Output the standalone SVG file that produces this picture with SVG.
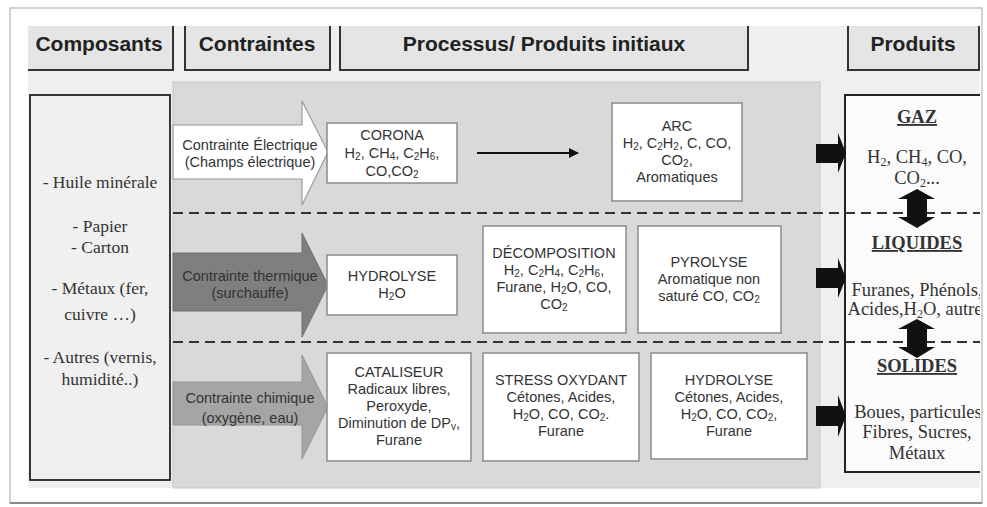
<svg xmlns="http://www.w3.org/2000/svg" width="987" height="507" viewBox="0 0 987 507">
<defs>
<style>
.hdr{fill:#e5e5e5}
.hdrb{fill:none;stroke:#333;stroke-width:2}
.ht{font-family:"Liberation Sans",Arial,sans-serif;font-weight:bold;font-size:21px;fill:#222;text-anchor:middle}
.box{fill:#fff;stroke:#8a8a8a;stroke-width:1.5}
.bt{font-family:"Liberation Sans",Arial,sans-serif;font-size:14.5px;fill:#333;text-anchor:middle}
.st{font-family:"Liberation Serif","Times New Roman",serif;font-size:17.5px;fill:#333;text-anchor:middle}
.pt{font-family:"Liberation Serif","Times New Roman",serif;font-size:18.5px;fill:#333;text-anchor:middle}
.ptb{font-family:"Liberation Serif","Times New Roman",serif;font-size:18.5px;font-weight:bold;fill:#333;text-anchor:middle;text-decoration:underline}
.dash{stroke:#333;stroke-width:2;stroke-dasharray:10 6;fill:none}
.blk{fill:#111}
</style>
<marker id="ah" markerWidth="10" markerHeight="10" refX="9" refY="5" orient="auto" markerUnits="userSpaceOnUse">
<path d="M0,0 L10,5 L0,10 z" fill="#111"/>
</marker>
<clipPath id="clipR"><rect x="0" y="0" width="980" height="507"/></clipPath>
</defs>
<rect x="0" y="0" width="987" height="507" fill="#fff"/>
<rect x="10" y="8" width="972" height="495" fill="#fff" stroke="#c4c4c4" stroke-width="1.5"/>
<line x1="10" y1="503" x2="982" y2="503" stroke="#8a8a8a" stroke-width="2"/>
<rect x="28" y="26" width="952" height="462" fill="#efefef"/>

<g id="headers">
<g id="h-composants"><rect class="hdr" x="28" y="26" width="145" height="44"/><path class="hdrb" d="M173,26 V70 H28"/><text class="ht" x="99" y="51">Composants</text></g>
<g id="h-contraintes"><rect class="hdr" x="185" y="26" width="145" height="44"/><path class="hdrb" d="M185,26 V70 H330 V26"/><text class="ht" x="257" y="51">Contraintes</text></g>
<g id="h-processus"><rect class="hdr" x="340" y="26" width="408" height="44"/><path class="hdrb" d="M340,26 V70 H748 V26"/><text class="ht" x="544" y="51">Processus/ Produits initiaux</text></g>
<g id="h-produits"><rect class="hdr" x="848" y="26" width="131" height="44"/><path class="hdrb" d="M848,26 V70 H979 V26"/><text class="ht" x="913" y="51">Produits</text></g>
</g>

<g id="panel">
<rect x="173" y="82" width="647" height="406" fill="#d9d9d9" stroke="#c6c6c6" stroke-width="1"/>
</g>

<g id="composants">
<rect x="30" y="95" width="140" height="385" fill="#f0f0f0" stroke="#222" stroke-width="1.8"/>
<text class="st" x="100" y="188">- Huile minérale</text>
<text class="st" x="100" y="232">- Papier</text>
<text class="st" x="100" y="253">- Carton</text>
<text class="st" x="100" y="294">- Métaux (fer,</text>
<text class="st" x="100" y="320">cuivre …)</text>
<text class="st" x="100" y="363">- Autres (vernis,</text>
<text class="st" x="100" y="385">humidité..)</text>
</g>

<g id="produits" clip-path="url(#clipR)">
<rect x="845" y="95" width="150" height="377" fill="#fbfbfb" stroke="#222" stroke-width="2"/>
<text class="ptb" x="917" y="123">GAZ</text>
<text class="pt" x="917" y="163">H<tspan font-size="12" dy="3">2</tspan><tspan dy="-3">, CH</tspan><tspan font-size="12" dy="3">4</tspan><tspan dy="-3">, CO,</tspan></text>
<text class="pt" x="917" y="184">CO<tspan font-size="12" dy="3">2</tspan><tspan dy="-3">...</tspan></text>
<text class="ptb" x="917" y="249">LIQUIDES</text>
<text class="pt" x="917" y="296">Furanes, Phénols,</text>
<text class="pt" x="915" y="315">Acides,H<tspan font-size="12" dy="3">2</tspan><tspan dy="-3">O, autre</tspan></text>
<text class="ptb" x="917" y="372">SOLIDES</text>
<text class="pt" x="918" y="418">Boues, particules</text>
<text class="pt" x="917" y="438">Fibres, Sucres,</text>
<text class="pt" x="917" y="459">Métaux</text>
</g>

<g id="dividers">
<line class="dash" x1="173" y1="213" x2="980" y2="213"/>
<line class="dash" x1="173" y1="342" x2="980" y2="342"/>
</g>

<g id="c-electrique">
<path d="M173,125 H302 V101 L328,152 L302,205 V179 H173 Z" fill="#fff" stroke="#9a9a9a" stroke-width="1.2"/>
<text class="bt" x="250" y="150">Contrainte Électrique</text>
<text class="bt" x="250" y="167">(Champs électrique)</text>
</g>
<g id="c-thermique">
<path d="M173,253 H302 V233 L328,285 L302,337 V311 H173 Z" fill="#7f7f7f" stroke="#6f6f6f" stroke-width="1"/>
<text class="bt" x="250" y="281" fill="#222">Contrainte thermique</text>
<text class="bt" x="250" y="298" fill="#222">(surchauffe)</text>
</g>
<g id="c-chimique">
<path d="M173,382 H302 V355 L328,407 L302,459 V425 H173 Z" fill="#a5a5a5" stroke="#959595" stroke-width="1"/>
<text class="bt" x="250" y="403" fill="#222">Contrainte chimique</text>
<text class="bt" x="250" y="423" fill="#222">(oxygène, eau)</text>
</g>

<g id="corona">
<rect class="box" x="327" y="123" width="130" height="60"/>
<text class="bt" x="392" y="140">CORONA</text>
<text class="bt" x="392" y="158">H<tspan font-size="10" dy="2">2</tspan><tspan dy="-2">, CH</tspan><tspan font-size="10" dy="2">4</tspan><tspan dy="-2">, C</tspan><tspan font-size="10" dy="2">2</tspan><tspan dy="-2">H</tspan><tspan font-size="10" dy="2">6</tspan><tspan dy="-2">,</tspan></text>
<text class="bt" x="392" y="176">CO,CO<tspan font-size="10" dy="2">2</tspan></text>
</g>
<g id="arc">
<rect class="box" x="612" y="103" width="130" height="98"/>
<text class="bt" x="677" y="131">ARC</text>
<text class="bt" x="677" y="148">H<tspan font-size="10" dy="2">2</tspan><tspan dy="-2">, C</tspan><tspan font-size="10" dy="2">2</tspan><tspan dy="-2">H</tspan><tspan font-size="10" dy="2">2</tspan><tspan dy="-2">, C, CO,</tspan></text>
<text class="bt" x="677" y="165">CO<tspan font-size="10" dy="2">2</tspan><tspan dy="-2">,</tspan></text>
<text class="bt" x="677" y="182">Aromatiques</text>
</g>
<g id="hydrolyse1">
<rect class="box" x="327" y="255" width="130" height="60"/>
<text class="bt" x="392" y="281">HYDROLYSE</text>
<text class="bt" x="392" y="298">H<tspan font-size="10" dy="2">2</tspan><tspan dy="-2">O</tspan></text>
</g>
<g id="decomposition">
<rect class="box" x="483" y="226" width="143" height="107"/>
<text class="bt" x="554" y="258">DÉCOMPOSITION</text>
<text class="bt" x="554" y="275">H<tspan font-size="10" dy="2">2</tspan><tspan dy="-2">, C</tspan><tspan font-size="10" dy="2">2</tspan><tspan dy="-2">H</tspan><tspan font-size="10" dy="2">4</tspan><tspan dy="-2">, C</tspan><tspan font-size="10" dy="2">2</tspan><tspan dy="-2">H</tspan><tspan font-size="10" dy="2">6</tspan><tspan dy="-2">,</tspan></text>
<text class="bt" x="554" y="292">Furane, H<tspan font-size="10" dy="2">2</tspan><tspan dy="-2">O, CO,</tspan></text>
<text class="bt" x="554" y="309">CO<tspan font-size="10" dy="2">2</tspan></text>
</g>
<g id="pyrolyse">
<rect class="box" x="638" y="226" width="143" height="107"/>
<text class="bt" x="709" y="267">PYROLYSE</text>
<text class="bt" x="709" y="284">Aromatique non</text>
<text class="bt" x="709" y="301">saturé CO, CO<tspan font-size="10" dy="2">2</tspan></text>
</g>
<g id="cataliseur">
<rect class="box" x="327" y="353" width="144" height="108"/>
<text class="bt" x="399" y="377">CATALISEUR</text>
<text class="bt" x="399" y="394">Radicaux libres,</text>
<text class="bt" x="399" y="411">Peroxyde,</text>
<text class="bt" x="399" y="428">Diminution de DP<tspan font-size="10" dy="2">v</tspan><tspan dy="-2">,</tspan></text>
<text class="bt" x="399" y="445">Furane</text>
</g>
<g id="stress">
<rect class="box" x="483" y="353" width="156" height="108"/>
<text class="bt" x="561" y="385">STRESS OXYDANT</text>
<text class="bt" x="561" y="402">Cétones, Acides,</text>
<text class="bt" x="561" y="419">H<tspan font-size="10" dy="2">2</tspan><tspan dy="-2">O, CO, CO</tspan><tspan font-size="10" dy="2">2</tspan><tspan dy="-2">.</tspan></text>
<text class="bt" x="561" y="436">Furane</text>
</g>
<g id="hydrolyse2">
<rect class="box" x="651" y="353" width="156" height="106"/>
<text class="bt" x="729" y="385">HYDROLYSE</text>
<text class="bt" x="729" y="402">Cétones, Acides,</text>
<text class="bt" x="729" y="419">H<tspan font-size="10" dy="2">2</tspan><tspan dy="-2">O, CO, CO</tspan><tspan font-size="10" dy="2">2</tspan><tspan dy="-2">,</tspan></text>
<text class="bt" x="729" y="436">Furane</text>
</g>

<g id="connectors">
<line x1="477" y1="153" x2="578" y2="153" stroke="#111" stroke-width="2" marker-end="url(#ah)"/>
<path class="blk" d="M816,144 H838 V133 L846,153 L838,173 V163 H816 Z"/>
<path class="blk" d="M816,268 H838 V258 L846,278 L838,298 V288 H816 Z"/>
<path class="blk" d="M816,406 H838 V395 L846,416 L838,437 V426 H816 Z"/>
<path class="blk" d="M917,189 L935,199 H927 V217 H935 L917,228 L898,217 H907 V199 H898 Z"/>
<path class="blk" d="M917,319 L935,329 H927 V347 H935 L917,358 L898,347 H907 V329 H898 Z"/>
</g>
</svg>
